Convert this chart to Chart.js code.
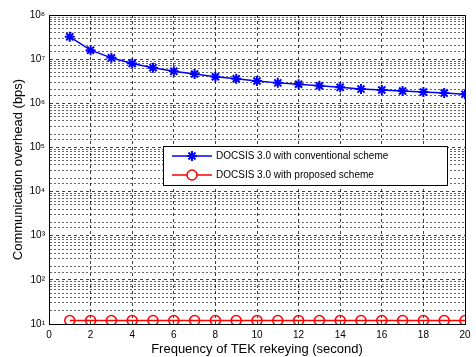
<!DOCTYPE html>
<html>
<head>
<meta charset="utf-8">
<script src="https://cdn.jsdelivr.net/npm/chart.js@4"></script>
<style>
  html, body { margin: 0; padding: 0; background: #fff; }
  #wrap { width: 476px; height: 357px; }
</style>
</head>
<body>
<div id="wrap"><canvas id="overheadChart" width="476" height="357"></canvas></div>
<script>
const rekeyFreq = [1, 2, 3, 4, 5, 6, 7, 8, 9, 10, 11, 12, 13, 14, 15, 16, 17, 18, 19, 20];
const conventional = [3.2e7, 1.6e7, 1.07e7, 8.0e6, 6.4e6, 5.3e6, 4.6e6, 4.0e6, 3.6e6, 3.2e6,
                      2.9e6, 2.7e6, 2.5e6, 2.3e6, 2.1e6, 2.0e6, 1.9e6, 1.8e6, 1.7e6, 1.6e6];
const proposed = [12, 12, 12, 12, 12, 12, 12, 12, 12, 12, 12, 12, 12, 12, 12, 12, 12, 12, 12, 12];
const seriesNames = ['DOCSIS 3.0 with conventional scheme', 'DOCSIS 3.0 with proposed scheme'];
const supDigits = { 1: '\u00b9', 2: '\u00b2', 3: '\u00b3', 4: '\u2074', 5: '\u2075', 6: '\u2076', 7: '\u2077', 8: '\u2078' };

const font = "'Liberation Sans', Arial, Helvetica, sans-serif";

const isDecade = v => Math.abs(Math.log10(v) - Math.round(Math.log10(v))) < 1e-9;

// box around the axes + legend inside the plot, MATLAB style
const boxLegend = {
  id: 'boxLegend',
  afterDraw(chart) {
    const { ctx, chartArea: a } = chart;
    ctx.save();
    ctx.strokeStyle = '#000';
    ctx.lineWidth = 1;
    ctx.strokeRect(a.left + 0.5, a.top + 0.5, a.right - a.left, a.bottom - a.top);

    const x0 = a.left + 114, y0 = a.top + 131, w = 284, h = 39;
    ctx.fillStyle = '#fff';
    ctx.fillRect(x0, y0, w, h);
    ctx.strokeRect(x0 + 0.5, y0 + 0.5, w, h);
    ctx.font = '10px ' + font;
    ctx.textBaseline = 'middle';
    chart.data.datasets.forEach((ds, i) => {
      const y = y0 + 10 + i * 19;
      ctx.strokeStyle = ds.borderColor;
      ctx.lineWidth = 1.5;
      ctx.beginPath();
      ctx.moveTo(x0 + 9, y);
      ctx.lineTo(x0 + 49, y);
      ctx.stroke();
      const cx = x0 + 29, r = 5;
      ctx.beginPath();
      if (ds.pointStyle === 'star') {
        ctx.lineWidth = 2;
        ctx.moveTo(cx - r, y); ctx.lineTo(cx + r, y);
        ctx.moveTo(cx, y - r); ctx.lineTo(cx, y + r);
        const d = r * 0.707;
        ctx.moveTo(cx - d, y - d); ctx.lineTo(cx + d, y + d);
        ctx.moveTo(cx - d, y + d); ctx.lineTo(cx + d, y - d);
      } else {
        ctx.arc(cx, y, r, 0, Math.PI * 2);
        ctx.fillStyle = '#fff';
        ctx.fill();
      }
      ctx.stroke();
      ctx.fillStyle = '#000';
      ctx.fillText(ds.label, x0 + 53, y + 0.5);
    });
    ctx.restore();
  }
};

const ctx = document.getElementById('overheadChart').getContext('2d');
new Chart(ctx, {
  type: 'line',
  data: {
    labels: rekeyFreq,
    datasets: [{
      label: seriesNames[0],
      data: rekeyFreq.map((x, i) => ({ x, y: conventional[i] })),
      borderColor: '#0000ff',
      backgroundColor: '#0000ff',
      borderWidth: 1.5,
      pointStyle: 'star',
      pointRadius: 5,
      pointBorderWidth: 2,
      tension: 0
    }, {
      label: seriesNames[1],
      data: rekeyFreq.map((x, i) => ({ x, y: proposed[i] })),
      borderColor: '#ff0000',
      backgroundColor: 'rgba(0,0,0,0)',
      borderWidth: 1.5,
      pointStyle: 'circle',
      pointRadius: 5,
      pointBorderWidth: 1.5,
      tension: 0
    }]
  },
  options: {
    responsive: false,
    animation: false,
    layout: { padding: { left: 0, right: 11, top: 15, bottom: 0 } },
    plugins: { legend: { display: false }, tooltip: { enabled: false } },
    scales: {
      x: {
        type: 'linear',
        min: 0, max: 20,
        afterFit: s => { s.height = 33; },
        ticks: { stepSize: 2, color: '#000', font: { family: font, size: 10 }, padding: 5, maxRotation: 0 },
        grid: { color: 'rgba(0,0,0,0.75)', drawTicks: false, lineWidth: 1 },
        border: { display: true, color: '#000', dash: [3, 3] },
        title: { display: true, text: 'Frequency of TEK rekeying (second)', color: '#000', font: { family: font, size: 13 }, padding: { top: 1, bottom: 0 } }
      },
      y: {
        type: 'logarithmic',
        min: 10, max: 1e8,
        afterFit: s => { s.width = 49; },
        ticks: {
          color: '#000', font: { family: font, size: 10 }, padding: 4, autoSkip: false,
          callback: v => isDecade(v) ? '10' + supDigits[Math.round(Math.log10(v))] : ''
        },
        grid: {
          color: c => isDecade(c.tick.value) ? 'rgba(0,0,0,0.75)' : 'rgba(0,0,0,0.6)',
          drawTicks: false, lineWidth: 1
        },
        border: {
          display: true, color: '#000',
          dash: c => (c.tick && isDecade(c.tick.value)) ? [3, 3] : [2, 2]
        },
        title: { display: true, text: 'Communication overhead (bps)', color: '#000', font: { family: font, size: 13 }, padding: { top: 11, bottom: 0 } }
      }
    }
  },
  plugins: [boxLegend]
});
</script>
</body>
</html>
